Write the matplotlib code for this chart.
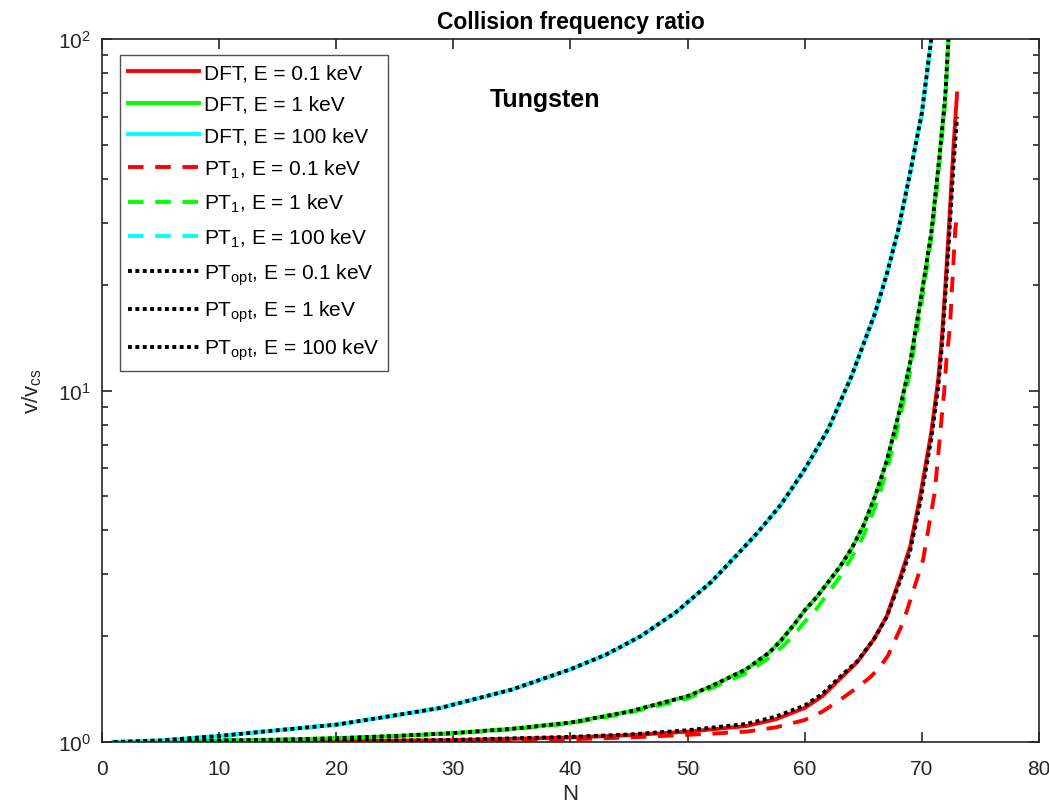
import numpy as np
import matplotlib.pyplot as plt
from matplotlib.ticker import LogLocator, NullFormatter

plt.rcParams['font.family'] = ['Liberation Sans', 'DejaVu Sans']
plt.rcParams['mathtext.fontset'] = 'custom'
plt.rcParams['mathtext.rm'] = 'Liberation Sans'
plt.rcParams['mathtext.it'] = 'Liberation Sans:italic'
plt.rcParams['mathtext.bf'] = 'Liberation Sans:bold'
plt.rcParams['mathtext.default'] = 'regular'

#---------- DATA ------------------------------------------------
# E = 0.1 keV
N_red      = [1, 10, 20, 30, 40, 45, 50, 55, 57.5, 60, 61.5, 62.9, 64.5, 65.9, 67, 68.1, 69, 69.85, 70.8, 71.4, 71.7, 72, 72.3, 72.7, 73]
dft_red    = [1.0, 1.0, 1.005, 1.012, 1.03, 1.045, 1.07, 1.11, 1.16, 1.25, 1.35, 1.50, 1.69, 1.96, 2.28, 2.91, 3.6, 5.0, 7.6, 10.8, 14.0, 19.8, 28.8, 49.6, 70]
opt_red    = [1.0, 1.0, 1.006, 1.014, 1.034, 1.05, 1.08, 1.125, 1.18, 1.27, 1.37, 1.52, 1.70, 1.96, 2.27, 2.85, 3.5, 4.8, 7.3, 10.3, 13.3, 18.7, 26.5, 44, 60]
N_pt1_red  = [1, 20, 30, 40, 45, 50, 52.5, 55, 57.5, 60, 61.5, 62.9, 64.5, 65.6, 66.4, 67.1, 68.4, 69.4, 70.1, 71.1, 71.6, 71.9, 72.1, 72.4, 72.55, 72.85, 73]
pt1_red    = [1.0, 1.0, 1.006, 1.018, 1.03, 1.048, 1.058, 1.07, 1.10, 1.155, 1.22, 1.31, 1.43, 1.53, 1.63, 1.76, 2.19, 2.78, 3.3, 5.15, 7.8, 9.9, 12.3, 15.2, 19.0, 28.8, 31]

# E = 1 keV
N_green    = [1, 5, 10, 15, 20, 25, 30, 35, 40, 45, 50, 52, 55, 57, 58, 59, 60, 61, 63, 64, 65, 66, 67, 68, 69, 70, 70.8, 71.3, 71.6, 72.0, 72.3]
dft_green  = [1.0, 1.0, 1.01, 1.015, 1.025, 1.04, 1.06, 1.09, 1.135, 1.22, 1.35, 1.44, 1.61, 1.80, 1.95, 2.14, 2.37, 2.58, 3.15, 3.55, 4.12, 5.0, 6.3, 8.5, 12.0, 19.0, 28, 40, 50, 69, 105]
pt1_green  = [1.0, 1.0, 1.01, 1.015, 1.024, 1.038, 1.057, 1.085, 1.13, 1.21, 1.33, 1.42, 1.57, 1.74, 1.86, 2.0, 2.2, 2.39, 2.95, 3.35, 3.85, 4.65, 5.9, 8.0, 11.3, 18, 27, 38, 48, 67, 105]
opt_green  = dft_green   # dotted sits right on the DFT curve

# E = 100 keV
N_cyan     = [1, 5, 10, 15, 20, 25, 28.9, 35, 40, 43, 46, 49, 52, 54.4, 56, 58, 60, 62, 64, 66, 67, 68, 69, 70, 70.8, 71.0]
dft_cyan   = [1.0, 1.01, 1.04, 1.08, 1.12, 1.19, 1.25, 1.41, 1.61, 1.77, 2.0, 2.34, 2.85, 3.46, 3.95, 4.75, 5.97, 7.76, 11.0, 16.6, 21.4, 28.8, 41.7, 61.7, 100, 112]
pt1_cyan   = dft_cyan
opt_cyan   = dft_cyan

# ── PLOT ──────────────────────────────────────────────────
fig = plt.figure(figsize=(10.49, 8.12), dpi=100)
ax = fig.add_axes([0.0972, 0.085, 0.8933, 0.8657])

lw = 2.8
dash = (4, 3)
dot = (1, 0.9)

ax.plot(N_red, dft_red, color='red', lw=lw, label='DFT, E = 0.1 keV')
ax.plot(N_green, dft_green, color='lime', lw=lw, label='DFT, E = 1 keV')
ax.plot(N_cyan, dft_cyan, color='cyan', lw=lw, label='DFT, E = 100 keV')
ax.plot(N_pt1_red, pt1_red, color='red', lw=lw, dashes=dash, label='PT$_1$, E = 0.1 keV')
ax.plot(N_green, pt1_green, color='lime', lw=lw, dashes=dash, label='PT$_1$, E = 1 keV')
ax.plot(N_cyan, pt1_cyan, color='cyan', lw=lw, dashes=dash, label='PT$_1$, E = 100 keV')
ax.plot(N_red, opt_red, color='black', lw=lw, dashes=dot, label='PT$_{opt}$, E = 0.1 keV')
ax.plot(N_green, opt_green, color='black', lw=lw, dashes=dot, label='PT$_{opt}$, E = 1 keV')
ax.plot(N_cyan, opt_cyan, color='black', lw=lw, dashes=dot, label='PT$_{opt}$, E = 100 keV')

ax.set_yscale('log')
ax.set_xlim(0, 80)
ax.set_ylim(1, 100)
ax.set_xticks(np.arange(0, 81, 10))
ax.yaxis.set_minor_locator(LogLocator(base=10, subs=np.arange(2, 10)))
ax.yaxis.set_minor_formatter(NullFormatter())

dark = '#262626'
for s in ax.spines.values():
    s.set_color(dark)
    s.set_linewidth(1.2)
ax.tick_params(which='both', direction='in', top=True, right=True, colors=dark, labelsize=15, width=1.2)
ax.tick_params(axis='x', which='major', length=7, pad=12)
ax.tick_params(axis='y', which='major', length=7, pad=8)
ax.tick_params(which='minor', length=4)

ax.set_title('Collision frequency ratio', fontsize=16.5, fontweight='bold', pad=8)
ax.set_xlabel('N', fontsize=16, color=dark, labelpad=4)
ax.set_ylabel('v/v$_{cs}$', fontsize=16, color=dark, labelpad=10)

ax.text(33.1, 67.6, 'Tungsten', fontsize=18, fontweight='bold', ha='left', va='center')

leg = ax.legend(loc='upper left', bbox_to_anchor=(0.0192, 0.977), borderaxespad=0,
                fontsize=15, handlelength=3.4, handletextpad=0.25, labelspacing=0.59,
                frameon=True, fancybox=False, edgecolor=dark, borderpad=0.4)
leg.get_frame().set_linewidth(1.0)

fig.savefig('out.png', dpi=100)
